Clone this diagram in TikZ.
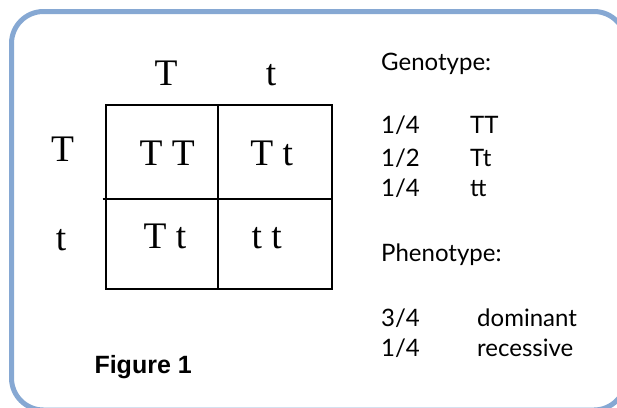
\documentclass[tikz,border=0pt]{standalone}
\usepackage{fontspec}
\setmainfont{Liberation Serif}
\newfontfamily\gillfont{Lato}
\newfontfamily\arialfont{Liberation Sans}
\definecolor{framecol}{RGB}{134,168,211}
\begin{document}
\begin{tikzpicture}[x=1pt,y=-1pt,
  cell/.style={anchor=base,inner sep=0pt,font=\fontsize{37.5}{41}\selectfont},
  info/.style={anchor=base west,inner sep=0pt,font=\gillfont\fontsize{24}{28}\selectfont},
  gridline/.style={line width=1.8pt,black},
  frameline/.style={line width=5pt,framecol,rounded corners=32pt}]
\useasboundingbox (0,0) rectangle (617,407);
% frame
\draw[frameline] (11.5,11.5) rectangle (626,410);
% grid
\draw[gridline] (106,104.7) rectangle (331.7,289.3);
\draw[gridline] (218,104.7) -- (218,289.3);
\draw[gridline] (102.7,199) -- (331.7,199);
% headers
\node[cell] (hT) at (166,85.7) {T};
\node[cell] (ht) at (271,85.7) {t};
\node[cell] (rT) at (62.5,161.7) {T};
\node[cell] (rt) at (61,250.7) {t};
% cells
\node[cell] (c11) at (167.3,165) {T T};
\node[cell] (c12) at (271.7,165) {T t};
\node[cell] (c21) at (165,248.3) {T t};
\node[cell] (c22) at (266.7,248.3) {t t};
% genotype
\node[info] (geno) at (381,70) {Genotype:};
\node[info] (g1a) at (381,133.3) {1/4};
\node[info] (g1b) at (470,133.3) {TT};
\node[info] (g2a) at (381,166.7) {1/2};
\node[info] (g2b) at (470,166.7) {Tt};
\node[info] (g3a) at (381,196.7) {1/4};
\node[info] (g3b) at (470,196.7) {tt};
% phenotype
\node[info] (pheno) at (381,261.7) {Phenotype:};
\node[info] (p1a) at (381,326.7) {3/4};
\node[info] (p1b) at (477,326.7) {dominant};
\node[info] (p2a) at (381,356.7) {1/4};
\node[info] (p2b) at (477,356.7) {recessive};
% caption
\node[anchor=base west,inner sep=0pt,font=\arialfont\bfseries\fontsize{25}{29}\selectfont] (fig) at (94.3,373.3) {Figure 1};
\end{tikzpicture}
\end{document}
